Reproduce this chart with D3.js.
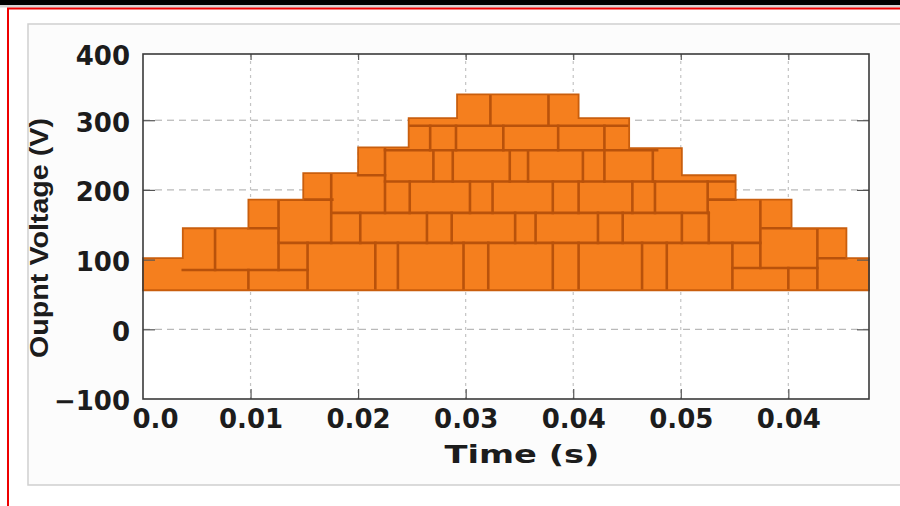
<!DOCTYPE html>
<html><head><meta charset="utf-8">
<script src="https://cdn.jsdelivr.net/npm/d3@7"></script>
<style>body{margin:0;background:#fff;} svg{display:block;}</style>
</head><body><svg id="c" width="900" height="506"></svg>
<script>
// ---- data ----
const stepEdges = [0, 0.0037, 0.0098, 0.0149, 0.0200, 0.0247, 0.0292, 0.0405, 0.0452, 0.0501, 0.0551, 0.0603, 0.0654, 0.0675];
const stepLevels = [102, 145, 186, 224, 261, 303, 337, 303, 260, 221, 186, 145, 102];
const baseVoltage = 56;
const yTickValues = [-100, 0, 100, 200, 300, 400];
const xTickValues = [0, 0.01, 0.02, 0.03, 0.04, 0.05, 0.06];
const xTickLabels = ["0.0", "0.01", "0.02", "0.03", "0.04", "0.05", "0.04"];
const xTitle = "Time (s)";
const yTitle = "Oupnt Voltage (V)";
// brick mortar: horizontal [voltage, tStart, tEnd]
const bedJoints = [
  [85, 0.0037, 0.0153], [145, 0.0098, 0.0126], [186, 0.0126, 0.0176],
  [124, 0.0126, 0.0574], [167, 0.0176, 0.0526], [221, 0.0200, 0.0225],
  [212, 0.0225, 0.0551], [257, 0.0225, 0.0478], [292, 0.0247, 0.0452],
  [88, 0.0548, 0.0627], [102, 0.0627, 0.0654], [145, 0.0576, 0.0627],
  [186, 0.0526, 0.0551]
];
// brick mortar: vertical [time, vStart, vEnd]
const headJoints = [
  [0.0067, 85, 145], [0.0098, 56, 85], [0.0126, 85, 186], [0.0153, 56, 124],
  [0.0175, 124, 221], [0.0202, 124, 167], [0.0216, 56, 124], [0.0225, 167, 261],
  [0.0237, 56, 124], [0.0248, 167, 212], [0.0264, 124, 167], [0.0267, 257, 292],
  [0.0270, 212, 257], [0.0288, 212, 257], [0.0291, 257, 292], [0.0287, 124, 167],
  [0.0298, 56, 124], [0.0304, 167, 212], [0.0321, 56, 124], [0.0323, 292, 340],
  [0.0325, 167, 212], [0.0335, 257, 292], [0.0341, 212, 257], [0.0346, 124, 167],
  [0.0358, 212, 257], [0.0365, 124, 167], [0.0377, 292, 340], [0.0381, 167, 212],
  [0.0381, 56, 124], [0.0386, 257, 292], [0.0405, 167, 212], [0.0405, 56, 124],
  [0.0409, 212, 257], [0.0423, 124, 167], [0.0429, 212, 292], [0.0446, 124, 167],
  [0.0474, 212, 259], [0.0455, 167, 212], [0.0476, 167, 212], [0.0525, 167, 212],
  [0.0501, 124, 167], [0.0526, 124, 167], [0.0464, 56, 124], [0.0487, 56, 124],
  [0.0548, 56, 124], [0.0574, 88, 186], [0.0627, 56, 145], [0.0600, 56, 88]
];

// ---- layout ----
const svg = d3.select("#c");
const W = 900, H = 506;
const plot = {left: 143, right: 869, top: 54, bottom: 399};
const orange = "#F57F1E", mortar = "#B9520B", ink = "#1c1c1c";

// page decoration
svg.append("rect").attr("x", 0).attr("y", 0).attr("width", W).attr("height", H).attr("fill", "#fff");
svg.append("rect").attr("x", 0).attr("y", 0).attr("width", W).attr("height", 5).attr("fill", "#000");
svg.append("rect").attr("x", 0).attr("y", 5).attr("width", W).attr("height", 2.5).attr("fill", "#d4d4d4");
svg.append("line").attr("x1", 7).attr("x2", W).attr("y1", 8.5).attr("y2", 8.5).attr("stroke", "#ee0000").attr("stroke-width", 2);
svg.append("line").attr("x1", 8).attr("x2", 8).attr("y1", 8).attr("y2", H).attr("stroke", "#ee0000").attr("stroke-width", 2);
svg.append("rect").attr("x", 28).attr("y", 24).attr("width", 890).attr("height", 461)
  .attr("fill", "#fcfcfc").attr("stroke", "#cfcfcf").attr("stroke-width", 1.5);
svg.append("rect").attr("x", plot.left).attr("y", plot.top)
  .attr("width", plot.right - plot.left).attr("height", plot.bottom - plot.top).attr("fill", "#fff");

// scales
const x = d3.scaleLinear().domain([0, 0.0675]).range([plot.left, plot.right]);
const y = d3.scaleLinear().domain([-100, 395]).range([plot.bottom, plot.top]);

// grid
svg.append("g").selectAll("line").data(yTickValues.filter(v => v > y.domain()[0] && v < y.domain()[1]))
  .join("line").attr("x1", plot.left).attr("x2", plot.right)
  .attr("y1", d => y(d)).attr("y2", d => y(d))
  .attr("stroke", "#a8a8a8").attr("stroke-width", 1).attr("stroke-dasharray", "7,5");
svg.append("g").selectAll("line").data(xTickValues.filter(v => v > x.domain()[0] && v < x.domain()[1]))
  .join("line").attr("x1", d => x(d)).attr("x2", d => x(d))
  .attr("y1", plot.top).attr("y2", plot.bottom)
  .attr("stroke", "#c4c4c4").attr("stroke-width", 1.2).attr("stroke-dasharray", "3,4");

// staircase of bricks
const pts = stepEdges.map((t, i) => ({t, v: stepLevels[Math.min(i, stepLevels.length - 1)]}));
const area = d3.area().curve(d3.curveStepAfter)
  .x(d => x(d.t)).y0(y(baseVoltage)).y1(d => y(d.v));
svg.append("defs").append("clipPath").attr("id", "wall").append("path").attr("d", area(pts));
const wall = svg.append("g");
wall.append("path").attr("d", area(pts)).attr("fill", orange);
const mg = wall.append("g").attr("clip-path", "url(#wall)")
  .attr("stroke", mortar).attr("stroke-width", 2.6).attr("stroke-linecap", "square");
mg.selectAll("line.bed").data(bedJoints).join("line").attr("class", "bed")
  .attr("x1", d => x(d[1])).attr("x2", d => x(d[2])).attr("y1", d => y(d[0])).attr("y2", d => y(d[0]));
mg.selectAll("line.head").data(headJoints).join("line").attr("class", "head")
  .attr("x1", d => x(d[0])).attr("x2", d => x(d[0])).attr("y1", d => y(d[1])).attr("y2", d => y(d[2]));
wall.append("path").attr("d", area(pts)).attr("fill", "none").attr("stroke", "#C95E0D").attr("stroke-width", 1.8);

// axes
const font = "'DejaVu Sans', sans-serif";
const yAxis = svg.append("g").attr("transform", `translate(${plot.left},0)`)
  .call(d3.axisLeft(y).tickValues(yTickValues).tickSize(-12).tickPadding(13).tickFormat(d3.format("d")));
yAxis.selectAll(".tick").filter(d => d > y.domain()[1])
  .attr("transform", `translate(0,${plot.top})`).select("line").remove();
yAxis.selectAll(".tick").filter(d => d === y.domain()[0]).select("line").remove();
yAxis.selectAll("text").text(d => d < 0 ? "\u2212" + Math.abs(d) : d).attr("dy", "0.42em");

const xAxis = svg.append("g").attr("transform", `translate(0,${plot.bottom})`)
  .call(d3.axisBottom(x).tickValues(xTickValues).tickSize(-10).tickPadding(11).tickFormat((d, i) => xTickLabels[i]));
xAxis.selectAll(".tick").filter(d => d === 0).select("text").attr("dx", 12);
xAxis.selectAll(".tick").filter(d => d === 0).select("line").remove();

const topAxis = svg.append("g").attr("transform", `translate(0,${plot.top})`)
  .call(d3.axisTop(x).tickValues(xTickValues.filter(d => d > 0)).tickSize(-6).tickFormat(""));
const rightAxis = svg.append("g").attr("transform", `translate(${plot.right},0)`)
  .call(d3.axisRight(y).tickValues(yTickValues.filter(d => d > y.domain()[0] && d < y.domain()[1])).tickSize(-12).tickFormat(""));

[yAxis, xAxis, topAxis, rightAxis].forEach(g => {
  g.select(".domain").remove();
  g.selectAll(".tick line").attr("stroke", "#555").attr("stroke-width", 1.2);
  g.selectAll("text").attr("font-family", font).attr("font-weight", "bold")
    .attr("font-size", 26).attr("fill", ink);
});

// frame
svg.append("rect").attr("x", plot.left).attr("y", plot.top)
  .attr("width", plot.right - plot.left).attr("height", plot.bottom - plot.top)
  .attr("fill", "none").attr("stroke", "#3a3a3a").attr("stroke-width", 1.6);

// titles
svg.append("text").attr("x", 522).attr("y", 463).attr("text-anchor", "middle")
  .attr("font-family", font).attr("font-weight", "bold").attr("font-size", 25).attr("fill", ink)
  .attr("textLength", 155).attr("lengthAdjust", "spacingAndGlyphs").text(xTitle);
svg.append("text").attr("transform", "translate(48,238) rotate(-90)").attr("text-anchor", "middle")
  .attr("font-family", "'Liberation Sans', Arial, sans-serif").attr("font-weight", "bold")
  .attr("font-size", 26).attr("fill", ink)
  .attr("textLength", 240).attr("lengthAdjust", "spacingAndGlyphs").text(yTitle);
</script>
</body></html>
